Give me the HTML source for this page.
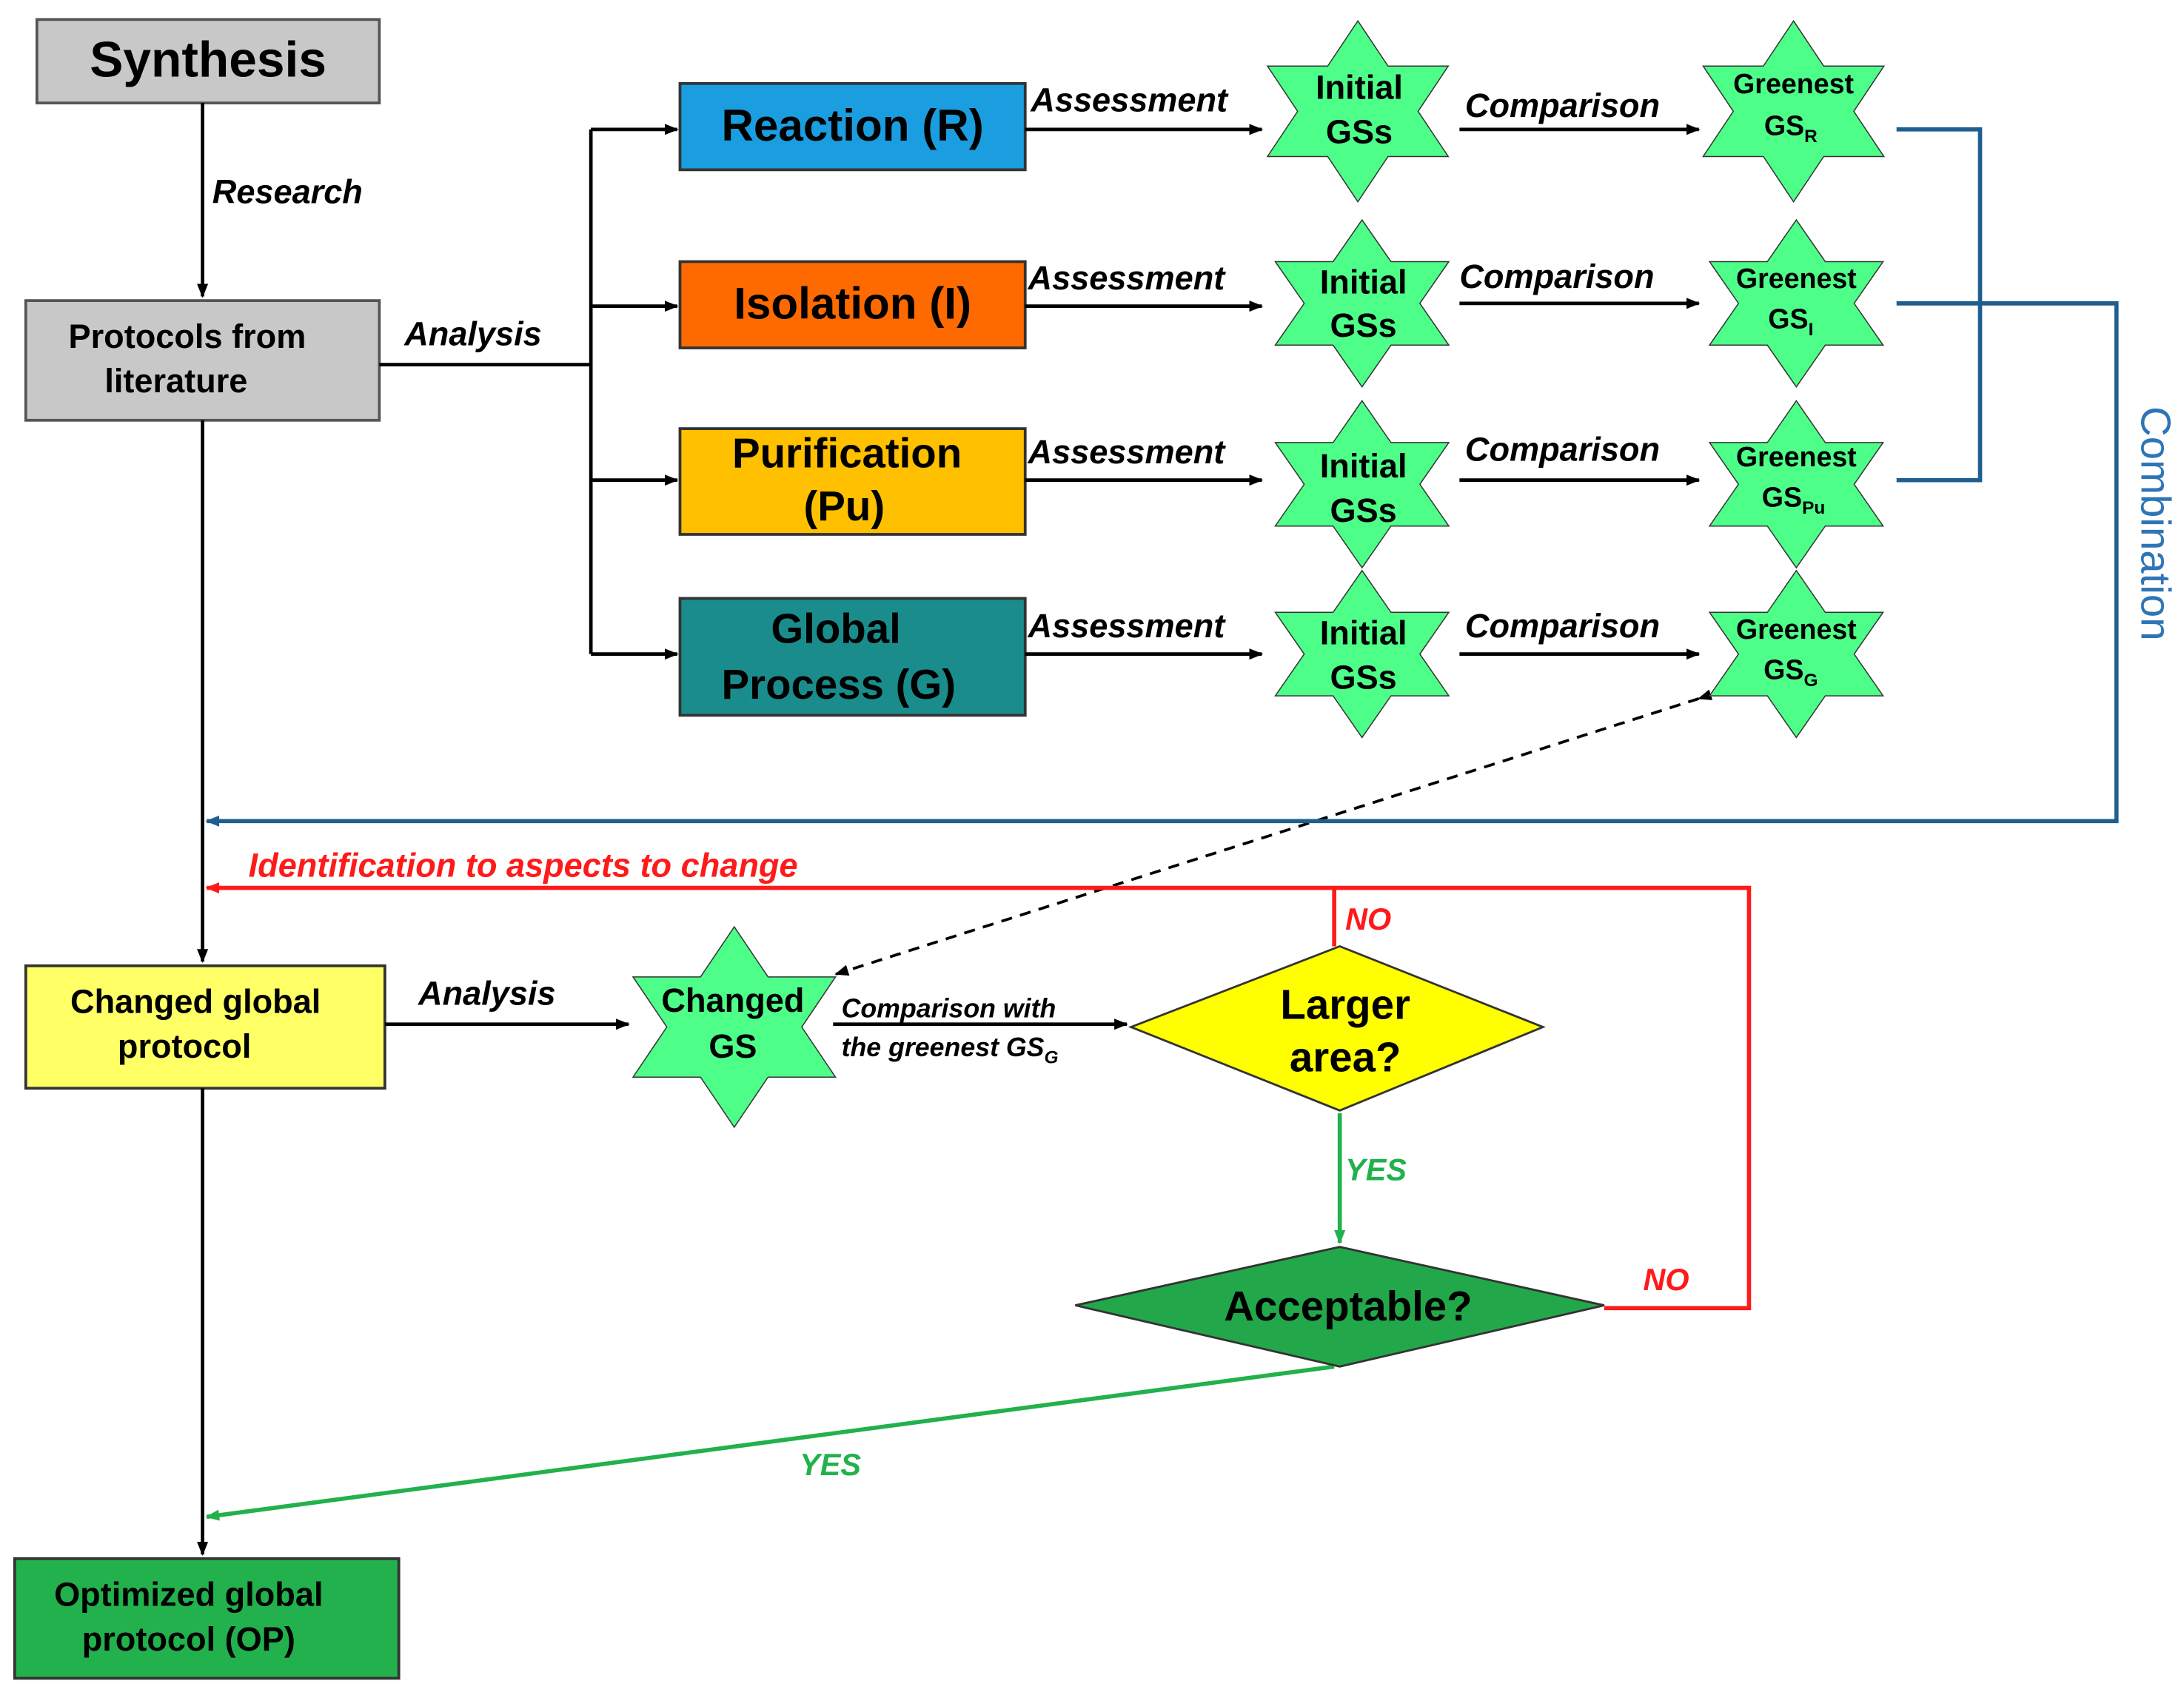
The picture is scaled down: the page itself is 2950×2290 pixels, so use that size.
<!DOCTYPE html>
<html><head><meta charset="utf-8"><style>
html,body{margin:0;padding:0;background:#fff;}
svg{display:block;}
text{font-family:"Liberation Sans",Arial,sans-serif;font-weight:bold;}
.it{font-style:italic;}
</style></head><body>
<svg width="2950" height="2290" viewBox="0 0 1568 1218" xmlns="http://www.w3.org/2000/svg">
<defs>
<marker id="ak" markerWidth="10" markerHeight="10" refX="9" refY="5" orient="auto" markerUnits="userSpaceOnUse"><path d="M0,1 L10,5 L0,9 Z" fill="#000"/></marker>
<marker id="ab" markerWidth="10" markerHeight="10" refX="9" refY="5" orient="auto" markerUnits="userSpaceOnUse"><path d="M0,1 L10,5 L0,9 Z" fill="#1f5f8f"/></marker>
<marker id="ar" markerWidth="10" markerHeight="10" refX="9" refY="5" orient="auto" markerUnits="userSpaceOnUse"><path d="M0,1 L10,5 L0,9 Z" fill="#ff1a1a"/></marker>
<marker id="ag" markerWidth="10" markerHeight="10" refX="9" refY="5" orient="auto" markerUnits="userSpaceOnUse"><path d="M0,1 L10,5 L0,9 Z" fill="#22b14c"/></marker>
<polygon id="st" points="0,-1 0.289,-0.5 0.866,-0.5 0.577,0 0.866,0.5 0.289,0.5 0,1 -0.289,0.5 -0.866,0.5 -0.577,0 -0.866,-0.5 -0.289,-0.5" fill="#4dff88" stroke="#333" stroke-width="1.5" vector-effect="non-scaling-stroke"/>
</defs>

<rect x="26" y="14" width="246" height="60" fill="#c8c8c8" stroke="#555" stroke-width="2"/>
<text x="149" y="55" font-size="36" text-anchor="middle">Synthesis</text>
<rect x="18" y="216" width="254" height="86" fill="#c8c8c8" stroke="#555" stroke-width="2"/>
<text x="134" y="250" font-size="24" text-anchor="middle">Protocols from</text>
<text x="126" y="282" font-size="24" text-anchor="middle">literature</text>

<rect x="488" y="60" width="248" height="62" fill="#1a9ee0" stroke="#333" stroke-width="2"/>
<text x="612" y="101" font-size="32" text-anchor="middle">Reaction (R)</text>
<rect x="488" y="188" width="248" height="62" fill="#ff6a00" stroke="#333" stroke-width="2"/>
<text x="612" y="229" font-size="32" text-anchor="middle">Isolation (I)</text>
<rect x="488" y="308" width="248" height="76" fill="#ffc000" stroke="#333" stroke-width="2"/>
<text x="608" y="336" font-size="30" text-anchor="middle">Purification</text>
<text x="606" y="374" font-size="30" text-anchor="middle">(Pu)</text>
<rect x="488" y="430" width="248" height="84" fill="#1a8c8c" stroke="#333" stroke-width="2"/>
<text x="600" y="462" font-size="30" text-anchor="middle">Global</text>
<text x="602" y="502" font-size="30" text-anchor="middle">Process (G)</text>

<rect x="18" y="694" width="258" height="88" fill="#ffff66" stroke="#333" stroke-width="2"/>
<text x="140" y="728" font-size="24" text-anchor="middle">Changed global</text>
<text x="132" y="760" font-size="24" text-anchor="middle">protocol</text>
<rect x="10" y="1120" width="276" height="86" fill="#22b14c" stroke="#333" stroke-width="2"/>
<text x="135" y="1154" font-size="24" text-anchor="middle">Optimized global</text>
<text x="135" y="1186" font-size="24" text-anchor="middle">protocol (OP)</text>

<g stroke="#000" stroke-width="2.5" fill="none">
<line x1="145" y1="74" x2="145" y2="213" marker-end="url(#ak)"/>
<line x1="272" y1="262" x2="424" y2="262"/>
<line x1="424" y1="93" x2="424" y2="470"/>
<line x1="424" y1="93" x2="486" y2="93" marker-end="url(#ak)"/>
<line x1="424" y1="220" x2="486" y2="220" marker-end="url(#ak)"/>
<line x1="424" y1="345" x2="486" y2="345" marker-end="url(#ak)"/>
<line x1="424" y1="470" x2="486" y2="470" marker-end="url(#ak)"/>
<line x1="736" y1="93" x2="906" y2="93" marker-end="url(#ak)"/>
<line x1="736" y1="220" x2="906" y2="220" marker-end="url(#ak)"/>
<line x1="736" y1="345" x2="906" y2="345" marker-end="url(#ak)"/>
<line x1="736" y1="470" x2="906" y2="470" marker-end="url(#ak)"/>
<line x1="1048" y1="93" x2="1220" y2="93" marker-end="url(#ak)"/>
<line x1="1048" y1="218" x2="1220" y2="218" marker-end="url(#ak)"/>
<line x1="1048" y1="345" x2="1220" y2="345" marker-end="url(#ak)"/>
<line x1="1048" y1="470" x2="1220" y2="470" marker-end="url(#ak)"/>
<line x1="145" y1="302" x2="145" y2="691" marker-end="url(#ak)"/>
<line x1="145" y1="782" x2="145" y2="1117" marker-end="url(#ak)"/>
<line x1="276" y1="736" x2="451" y2="736" marker-end="url(#ak)"/>
<line x1="598" y1="736" x2="809" y2="736" marker-end="url(#ak)"/>
<line x1="1220" y1="502" x2="600" y2="700" stroke-dasharray="8,6" marker-end="url(#ak)" marker-start="url(#ak)" stroke-width="2"/>
</g>

<g stroke="#1f5f8f" stroke-width="3" fill="none">
<polyline points="1362,93 1422,93 1422,345 1362,345"/>
<polyline points="1362,218 1520,218 1520,590 148,590" marker-end="url(#ab)"/>
</g>
<text transform="translate(1538,292) rotate(90)" font-size="30" fill="#2e75b6" style="font-weight:normal">Combination</text>

<g stroke="#ff1a1a" stroke-width="3" fill="none">
<polyline points="1152,940 1256,940 1256,638 148,638" marker-end="url(#ar)"/>
<line x1="958" y1="638" x2="958" y2="680"/>
</g>
<text x="178" y="630" font-size="24" fill="#ff1a1a" class="it">Identification to aspects to change</text>
<text x="966" y="668" font-size="22" fill="#ff1a1a" class="it">NO</text>
<text x="1180" y="927" font-size="22" fill="#ff1a1a" class="it">NO</text>

<g stroke="#22b14c" stroke-width="3" fill="none">
<line x1="962" y1="800" x2="962" y2="893" marker-end="url(#ag)"/>
<line x1="958" y1="982" x2="148" y2="1090" marker-end="url(#ag)"/>
</g>
<text x="966" y="848" font-size="22" fill="#22b14c" class="it">YES</text>
<text x="574" y="1060" font-size="22" fill="#22b14c" class="it">YES</text>

<polygon points="812,738 962,680 1108,738 962,798" fill="#ffff00" stroke="#333" stroke-width="1.5"/>
<text x="966" y="732" font-size="30" text-anchor="middle">Larger</text>
<text x="966" y="770" font-size="30" text-anchor="middle">area?</text>
<polygon points="772,938 962,896 1152,938 962,982" fill="#22a84a" stroke="#333" stroke-width="1.5"/>
<text x="968" y="949" font-size="30" text-anchor="middle">Acceptable?</text>

<g font-size="24" class="it">
<text x="152" y="146" font-style="italic">Research</text>
<text x="290" y="248" font-style="italic">Analysis</text>
<text x="300" y="722" font-style="italic">Analysis</text>
<text x="740" y="80" font-style="italic">Assessment</text>
<text x="738" y="208" font-style="italic">Assessment</text>
<text x="738" y="333" font-style="italic">Assessment</text>
<text x="738" y="458" font-style="italic">Assessment</text>
<text x="1052" y="84" font-style="italic">Comparison</text>
<text x="1048" y="207" font-style="italic">Comparison</text>
<text x="1052" y="331" font-style="italic">Comparison</text>
<text x="1052" y="458" font-style="italic">Comparison</text>
</g>
<text x="604" y="731" font-size="19" font-style="italic">Comparison with</text>
<text x="604" y="759" font-size="19" font-style="italic">the greenest GS<tspan font-size="13" dy="5">G</tspan></text>

<use href="#st" transform="translate(975,80) scale(75,65)"/>
<use href="#st" transform="translate(978,218) scale(72,60)"/>
<use href="#st" transform="translate(978,348) scale(72,60)"/>
<use href="#st" transform="translate(978,470) scale(72,60)"/>
<use href="#st" transform="translate(1288,80) scale(75,65)"/>
<use href="#st" transform="translate(1290,218) scale(72,60)"/>
<use href="#st" transform="translate(1290,348) scale(72,60)"/>
<use href="#st" transform="translate(1290,470) scale(72,60)"/>
<use href="#st" transform="translate(527,738) scale(84,72)"/>

<g font-size="24" text-anchor="middle">
<text x="976" y="71">Initial</text><text x="976" y="103">GSs</text>
<text x="979" y="211">Initial</text><text x="979" y="242">GSs</text>
<text x="979" y="343">Initial</text><text x="979" y="375">GSs</text>
<text x="979" y="463">Initial</text><text x="979" y="495">GSs</text>
</g>
<g font-size="20" text-anchor="middle">
<text x="1288" y="67">Greenest</text><text x="1286" y="97">GS<tspan font-size="13" dy="5">R</tspan></text>
<text x="1290" y="207">Greenest</text><text x="1286" y="236">GS<tspan font-size="13" dy="5">I</tspan></text>
<text x="1290" y="335">Greenest</text><text x="1288" y="364">GS<tspan font-size="13" dy="5">Pu</tspan></text>
<text x="1290" y="459">Greenest</text><text x="1286" y="488">GS<tspan font-size="13" dy="5">G</tspan></text>
</g>
<text x="526" y="727" font-size="24" text-anchor="middle">Changed</text>
<text x="526" y="760" font-size="24" text-anchor="middle">GS</text>
</svg>
</body></html>
